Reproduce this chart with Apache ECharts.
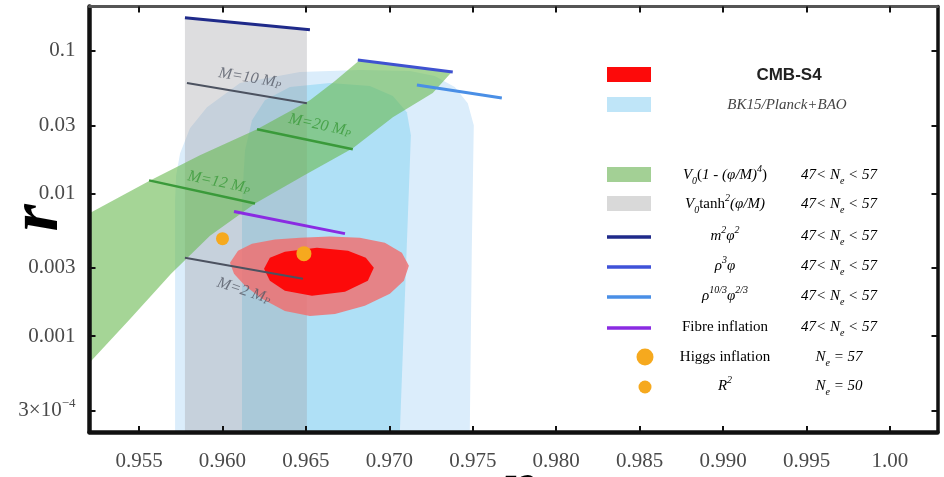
<!DOCTYPE html>
<html>
<head>
<meta charset="utf-8">
<script src="https://cdn.jsdelivr.net/npm/echarts@6/dist/echarts.min.js"></script>
<style>
  html, body { margin: 0; background: #fff; }
  #chart { width: 944px; height: 477px; }
</style>
</head>
<body>
<div id="chart"></div>
<script>
  // axis ranges (n_s, r)
  const xMin = 0.95203, xMax = 1.00285;
  const yMin = 2.12e-4, yMax = 0.205;

  const xTicks = [0.955, 0.960, 0.965, 0.970, 0.975, 0.980, 0.985, 0.990, 0.995, 1.000];
  const xTickLabels = ['0.955', '0.960', '0.965', '0.970', '0.975', '0.980', '0.985', '0.990', '0.995', '1.00'];
  const yTicks = [3e-4, 0.001, 0.003, 0.01, 0.03, 0.1];
  const yTickLabels = ['{n|3×10}{sup|−4}', '0.001', '0.003', '0.01', '0.03', '0.1'];

  // contours [n_s, r]
  const bk15Outer = [[0.95716, 2.12e-4], [0.95716, 0.00893], [0.95722, 0.01339], [0.95746, 0.01913], [0.95805, 0.02869],
    [0.95907, 0.04032], [0.96105, 0.05951], [0.96464, 0.07113], [0.96823, 0.07348], [0.97123, 0.0723], [0.97272, 0.06666],
    [0.97392, 0.05579], [0.9747, 0.04302], [0.97506, 0.03012], [0.97494, 0.003969], [0.97482, 2.12e-4]];
  const bk15Inner = [[0.96117, 2.12e-4], [0.96117, 0.00893], [0.96135, 0.02009], [0.96177, 0.03266], [0.96254, 0.04517],
    [0.96404, 0.05579], [0.96644, 0.05951], [0.96883, 0.0567], [0.97021, 0.0482], [0.97105, 0.03718], [0.97129, 0.02562],
    [0.97063, 2.12e-4]];
  const tanhBand = [[0.95775, 2.12e-4], [0.95775, 0.1708], [0.96506, 0.141], [0.96506, 2.12e-4]];
  const hilltopBand = [[0.9520, 0.00723], [0.95566, 0.01235], [0.95865, 0.01851], [0.96207, 0.02823], [0.96524, 0.04517],
    [0.96674, 0.0615], [0.96823, 0.0864], [0.97374, 0.0711], [0.9726, 0.0506], [0.97021, 0.03428], [0.96781, 0.02074],
    [0.96488, 0.01339], [0.96195, 0.0085], [0.95925, 0.00506], [0.95692, 0.002733], [0.95446, 0.001317], [0.9520, 0.000645]];
  const cmbOuter = [[0.96045, 0.003266], [0.96093, 0.003969], [0.96177, 0.004445], [0.96314, 0.004744], [0.96464, 0.004899],
    [0.96644, 0.00498], [0.96823, 0.004899], [0.96973, 0.004518], [0.97075, 0.003842], [0.97117, 0.003112], [0.97087, 0.00244],
    [0.97003, 0.001976], [0.96853, 0.001627], [0.96674, 0.001429], [0.96524, 0.001383], [0.96374, 0.0015], [0.96237, 0.001822],
    [0.96135, 0.00225], [0.96069, 0.002733]];
  const cmbInner = [[0.96249, 0.002963], [0.96284, 0.003542], [0.96374, 0.003905], [0.96566, 0.004166], [0.96752, 0.003969],
    [0.96859, 0.003542], [0.96907, 0.003012], [0.96871, 0.00244], [0.96734, 0.002041], [0.96536, 0.001913], [0.96374, 0.002074],
    [0.96284, 0.00244]];

  // model predictions 47 < N_e < 57
  const m2phi2 = [[0.95775, 0.1708], [0.96524, 0.1406]];
  const rho3phi = [[0.96811, 0.0864], [0.9738, 0.0711]];
  const rho103 = [[0.97165, 0.05761], [0.97674, 0.04667]];
  const fibre = [[0.96069, 0.007466], [0.96734, 0.005228]];
  const lineM10 = [[0.95787, 0.05951], [0.96506, 0.04302]];
  const lineM20 = [[0.96207, 0.02823], [0.96781, 0.02041]];
  const lineM12 = [[0.9556, 0.01235], [0.96195, 0.0085]];
  const lineM2 = [[0.95775, 0.003542], [0.96482, 0.00252]];
  const higgs = [0.96488, 0.003781];
  const rSquared = [0.96, 0.00482];

  const mLabelPos = [[0.96165, 0.06455], [0.96584, 0.03012], [0.95979, 0.01196], [0.96129, 0.002074]];
  const mLabelText = ['10', '20', '12', '2'];

  const SERIF = "'Liberation Serif', 'DejaVu Serif', serif";
  const GRAY_LINE = '#4c5260', GREEN_LINE = '#3a9a3a';
  const mLabelStyle = [
    { rotate: -9.5, color: '#555a66' }, { rotate: -12, color: GREEN_LINE },
    { rotate: -12, color: GREEN_LINE }, { rotate: -18, color: '#555a66' }
  ];

  function L(p) { return [p[0], Math.log10(p[1])]; }

  function polygon(pts, fill) {
    const d = pts.map(L);
    return {
      type: 'custom', silent: true, clip: true, data: d, encode: { x: 0, y: 1 },
      renderItem: function (params, api) {
        if (params.dataIndex !== 0) return null;
        return { type: 'polygon', shape: { points: d.map(p => api.coord(p)) }, style: { fill: fill } };
      }
    };
  }

  function seg(pts, color, width) {
    return {
      type: 'line', silent: true, data: pts.map(L), symbol: 'none', showSymbol: false,
      lineStyle: { color: color, width: width }
    };
  }

  const richSmall = {
    i: { fontFamily: SERIF, fontStyle: 'italic', fontSize: 16 },
    sub: { fontFamily: SERIF, fontStyle: 'italic', fontSize: 10, verticalAlign: 'bottom' }
  };

  const series = [
    polygon(bk15Outer, '#dbedfb'),
    polygon(bk15Inner, '#afe0f6'),
    polygon(tanhBand, 'rgba(160,160,165,0.36)'),
    seg(rho103, '#4a8fe6', 3),
    polygon(hilltopBand, 'rgba(105,185,80,0.6)'),
    polygon(cmbOuter, 'rgba(240,110,110,0.82)'),
    polygon(cmbInner, '#fd0a0a'),
    seg(m2phi2, '#1f2a8a', 3),
    seg(rho3phi, '#3f52d0', 3),
    seg(fibre, '#8a2be2', 3),
    seg(lineM10, GRAY_LINE, 2),
    seg(lineM20, GREEN_LINE, 2.5),
    seg(lineM12, GREEN_LINE, 2.5),
    seg(lineM2, GRAY_LINE, 2),
    {
      type: 'scatter', silent: true, symbolSize: 0,
      data: mLabelPos.map((p, k) => ({
        value: L(p),
        label: {
          show: true, position: 'inside', rotate: mLabelStyle[k].rotate, color: mLabelStyle[k].color,
          formatter: '{i|M=' + mLabelText[k] + ' M}{sub|P}', rich: richSmall
        }
      }))
    },
    {
      type: 'scatter', silent: true,
      data: [{ value: L(higgs), symbolSize: 15 }, { value: L(rSquared), symbolSize: 13 }],
      itemStyle: { color: '#f6a91e', opacity: 1 }
    }
  ];

  // legend (drawn as graphic elements)
  const TXT = '#333';
  const legRich = {
    n: { fontFamily: SERIF, fontSize: 15, color: TXT, lineHeight: 22 },
    i: { fontFamily: SERIF, fontSize: 15, fontStyle: 'italic', color: TXT, lineHeight: 22 },
    sup: { fontFamily: SERIF, fontSize: 10, fontStyle: 'italic', color: TXT, verticalAlign: 'top' },
    sub: { fontFamily: SERIF, fontSize: 10, fontStyle: 'italic', color: TXT, verticalAlign: 'bottom' }
  };
  const legendNames = [
    '{i|V}{sub|0}{n|(}{i|1 - (φ/M)}{sup|4}{n|)}',
    '{i|V}{sub|0}{n|tanh}{sup|2}{i|(φ/M)}',
    '{i|m}{sup|2}{i|φ}{sup|2}',
    '{i|ρ}{sup|3}{i|φ}',
    '{i|ρ}{sup|10/3}{i|φ}{sup|2/3}',
    '{n|Fibre inflation}',
    '{n|Higgs inflation}',
    '{i|R}{sup|2}'
  ];
  const legendRanges = [
    '{i|47< N}{sub|e}{i| < 57}', '{i|47< N}{sub|e}{i| < 57}', '{i|47< N}{sub|e}{i| < 57}', '{i|47< N}{sub|e}{i| < 57}',
    '{i|47< N}{sub|e}{i| < 57}', '{i|47< N}{sub|e}{i| < 57}', '{i|N}{sub|e}{i| = 57}', '{i|N}{sub|e}{i| = 50}'
  ];
  const rowY = [175, 204, 236, 266, 296, 327, 357, 386];
  const graphic = [];
  graphic.push({ type: 'rect', shape: { x: 607, y: 67, width: 44, height: 15 }, style: { fill: '#fd0a0a' } });
  graphic.push({ type: 'rect', shape: { x: 607, y: 97, width: 44, height: 15 }, style: { fill: '#bfe5f8' } });
  graphic.push({ type: 'text', x: 789, y: 75, style: { text: 'CMB-S4', fontFamily: "'Liberation Sans', Arial, sans-serif", fontWeight: 'bold', fontSize: 17, fill: '#222', align: 'center', verticalAlign: 'middle' } });
  graphic.push({ type: 'text', x: 787, y: 105, style: { text: 'BK15/Planck+BAO', fontFamily: SERIF, fontStyle: 'italic', fontSize: 15, fill: '#444', align: 'center', verticalAlign: 'middle' } });
  graphic.push({ type: 'rect', shape: { x: 607, y: 167, width: 44, height: 15 }, style: { fill: '#a3d095' } });
  graphic.push({ type: 'rect', shape: { x: 607, y: 196, width: 44, height: 15 }, style: { fill: '#d9d9d9' } });
  const swLines = ['#1f2a8a', '#3f52d8', '#4a8fe6', '#8a2be2'];
  swLines.forEach((c, k) => {
    graphic.push({ type: 'line', shape: { x1: 607, y1: rowY[k + 2] + 1, x2: 651, y2: rowY[k + 2] + 1 }, style: { stroke: c, lineWidth: 3.5 } });
  });
  graphic.push({ type: 'circle', shape: { cx: 645, cy: 357, r: 8.5 }, style: { fill: '#f6a91e' } });
  graphic.push({ type: 'circle', shape: { cx: 645, cy: 387, r: 6.5 }, style: { fill: '#f6a91e' } });
  legendNames.forEach((t, k) => {
    graphic.push({ type: 'text', x: 725, y: rowY[k], style: { text: t, rich: legRich, align: 'center', verticalAlign: 'middle' } });
    graphic.push({ type: 'text', x: 839, y: rowY[k], style: { text: legendRanges[k], rich: legRich, align: 'center', verticalAlign: 'middle' } });
  });
  // axis titles
  graphic.push({ type: 'text', x: 39, y: 218, rotation: Math.PI / 2, style: { text: 'r', fontFamily: SERIF, fontStyle: 'italic', fontWeight: 'bold', fontSize: 70, fill: '#000', align: 'center', verticalAlign: 'middle' } });
  graphic.push({ type: 'text', x: 520, y: 488, style: { text: 'n', fontFamily: SERIF, fontStyle: 'italic', fontWeight: 'bold', fontSize: 64, fill: '#000', align: 'center', verticalAlign: 'middle' } });

  const chart = echarts.init(document.getElementById('chart'));
  const tickFmtX = v => { const k = xTicks.findIndex(t => Math.abs(t - v) < 1e-7); return k < 0 ? '' : xTickLabels[k]; };
  const tickFmtY = v => { const k = yTicks.findIndex(t => Math.abs(Math.log10(t) - v) < 1e-6); return k < 0 ? '' : yTickLabels[k]; };
  const labelFont = { fontFamily: SERIF, fontSize: 21, color: '#4a4a4a' };

  chart.setOption({
    animation: false,
    backgroundColor: '#fff',
    grid: { left: 89.5, right: 6.5, top: 6.5, bottom: 45 },
    xAxis: [{
      type: 'value', min: xMin, max: xMax, position: 'bottom', z: 10,
      axisLine: { show: true, onZero: false, lineStyle: { color: '#111', width: 4.5 } },
      axisTick: { show: true, inside: true, length: 6, customValues: xTicks, lineStyle: { color: '#111', width: 2 } },
      axisLabel: Object.assign({ customValues: xTicks, margin: 19, formatter: tickFmtX }, labelFont),
      splitLine: { show: false }
    }, {
      type: 'value', min: xMin, max: xMax, position: 'top', z: 10,
      axisLine: { show: true, onZero: false, lineStyle: { color: '#555', width: 3 } },
      axisTick: { show: true, inside: true, length: 6, customValues: xTicks, lineStyle: { color: '#111', width: 2 } },
      axisLabel: { show: false },
      splitLine: { show: false }
    }],
    yAxis: [{
      type: 'value', min: Math.log10(yMin), max: Math.log10(yMax), position: 'left', z: 10,
      axisLine: { show: true, onZero: false, lineStyle: { color: '#111', width: 4.5 } },
      axisTick: { show: true, inside: true, length: 6, customValues: yTicks.map(Math.log10), lineStyle: { color: '#111', width: 2 } },
      axisLabel: Object.assign({
        customValues: yTicks.map(Math.log10), margin: 14, formatter: tickFmtY,
        rich: {
          n: { fontFamily: SERIF, fontSize: 21, color: '#4a4a4a', lineHeight: 26 },
          sup: { fontFamily: SERIF, fontSize: 13, color: '#4a4a4a', verticalAlign: 'top' }
        }
      }, labelFont),
      splitLine: { show: false }
    }, {
      type: 'value', min: Math.log10(yMin), max: Math.log10(yMax), position: 'right', z: 10,
      axisLine: { show: true, onZero: false, lineStyle: { color: '#111', width: 3.5 } },
      axisTick: { show: true, inside: true, length: 6, customValues: yTicks.map(Math.log10), lineStyle: { color: '#111', width: 2 } },
      axisLabel: { show: false },
      splitLine: { show: false }
    }],
    series: series,
    graphic: graphic
  });
</script>
</body>
</html>
